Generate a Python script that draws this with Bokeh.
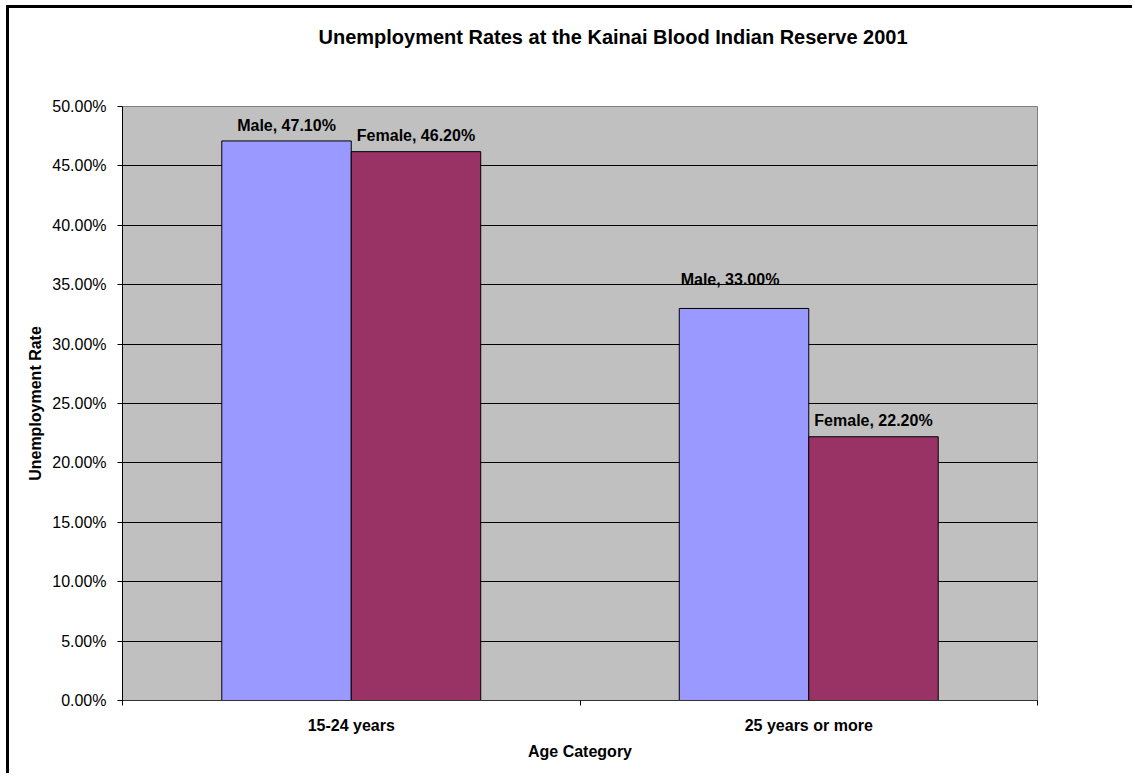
from bokeh.plotting import figure
from bokeh.models import ColumnDataSource, FixedTicker, PrintfTickFormatter, Range1d, Title
from bokeh.core.properties import value
from bokeh.embed import file_html
from bokeh.resources import INLINE

# Unemployment rates (%) by age category
age_groups = ["15-24 years", "25 years or more"]
series_names = ["Male", "Female"]
male_rate = [47.1, 33.0]
female_rate = [46.2, 22.2]
y_ticks = [0, 5, 10, 15, 20, 25, 30, 35, 40, 45, 50]

FONT = "Liberation Sans"
BAR_W = 0.283
series_colors = ["#9999FF", "#993366"]
# pixel nudges for the value labels (x, y)
label_nudge_x = [[0, -14], [0, 0]]
label_nudge_y = [[-15, -29], [-16, -16]]

n = len(age_groups)
p = figure(
    width=1126, height=768,
    x_range=Range1d(0, n), y_range=Range1d(0, y_ticks[-1]),
    output_backend="svg", toolbar_location=None,
    min_border_left=113, min_border_right=98,
    min_border_top=98, min_border_bottom=76,
)
p.styles = {
    "margin-left": "6px", "margin-top": "5px",
    "border-left": "3px solid black", "border-top": "3px solid black",
}
p.background_fill_color = "#C0C0C0"
p.border_fill_color = "white"
p.outline_line_color = "#808080"
p.outline_line_width = 1

# blank strip between the chart title and the plot area
p.add_layout(Title(text=" ", text_font_size="1px", standoff=51), "above")

# Title
p.title.text = "Unemployment Rates at the Kainai Blood Indian Reserve 2001"
p.title.text_font = FONT
p.title.text_font_size = "20px"
p.title.text_font_style = "bold"
p.title.text_color = "black"
p.title.align = "left"
p.title.offset = 196
p.title.standoff = 10

# Bars and value labels
for k, (name, vals, color) in enumerate(zip(series_names, [male_rate, female_rate], series_colors)):
    shift = (k - 0.5) * BAR_W
    xs = [i + 0.5 + shift for i in range(n)]
    src = ColumnDataSource(dict(
        x=xs, top=vals,
        label=[f"{name}, {v:.2f}%" for v in vals],
        dx=label_nudge_x[k], dy=label_nudge_y[k],
    ))
    p.vbar(x="x", top="top", width=BAR_W, source=src,
           fill_color=color, line_color="black", line_width=1)
    p.text(x="x", y="top", text="label", source=src,
           x_offset="dx", y_offset="dy",
           text_align="center", text_baseline="alphabetic",
           text_font=value(FONT), text_font_style="bold",
           text_font_size="16px", text_color="black")

# Y axis
p.yaxis.ticker = FixedTicker(ticks=y_ticks)
p.yaxis.formatter = PrintfTickFormatter(format="%.2f%%")
p.yaxis.major_label_text_font = FONT
p.yaxis.major_label_text_font_size = "16px"
p.yaxis.major_label_text_color = "black"
p.yaxis.major_label_standoff = 11
p.yaxis.major_tick_out = 5
p.yaxis.major_tick_in = 0
p.yaxis.minor_tick_line_color = None
p.yaxis.axis_line_color = "black"
p.yaxis.major_tick_line_color = "black"
p.yaxis.axis_label = "Unemployment Rate"
p.yaxis.axis_label_text_font = FONT
p.yaxis.axis_label_text_font_size = "16px"
p.yaxis.axis_label_text_font_style = "bold"
p.yaxis.axis_label_text_color = "black"
p.yaxis.axis_label_standoff = 5

# X axis: labels at category centres, ticks at category boundaries
centres = [i + 0.5 for i in range(n)]
p.xaxis.ticker = FixedTicker(ticks=centres, minor_ticks=list(range(n + 1)))
p.xaxis.major_label_overrides = {c: g for c, g in zip(centres, age_groups)}
p.xaxis.major_label_text_font = FONT
p.xaxis.major_label_text_font_size = "16px"
p.xaxis.major_label_text_font_style = "bold"
p.xaxis.major_label_text_color = "black"
p.xaxis.major_label_standoff = 11
p.xaxis.major_tick_out = 0
p.xaxis.major_tick_in = 0
p.xaxis.minor_tick_out = 5
p.xaxis.minor_tick_in = 0
p.xaxis.minor_tick_line_color = "black"
p.xaxis.axis_line_color = "#333333"
p.xaxis.axis_label = "Age Category"
p.xaxis.axis_label_text_font = FONT
p.xaxis.axis_label_text_font_size = "16px"
p.xaxis.axis_label_text_font_style = "bold"
p.xaxis.axis_label_text_color = "black"
p.xaxis.axis_label_standoff = 6

# Grid
p.xgrid.visible = False
p.ygrid.ticker = FixedTicker(ticks=y_ticks[1:-1])
p.ygrid.grid_line_color = "black"
p.ygrid.grid_line_alpha = 1.0
p.ygrid.grid_line_width = 1

open("out.html", "w").write(file_html(p, INLINE))
